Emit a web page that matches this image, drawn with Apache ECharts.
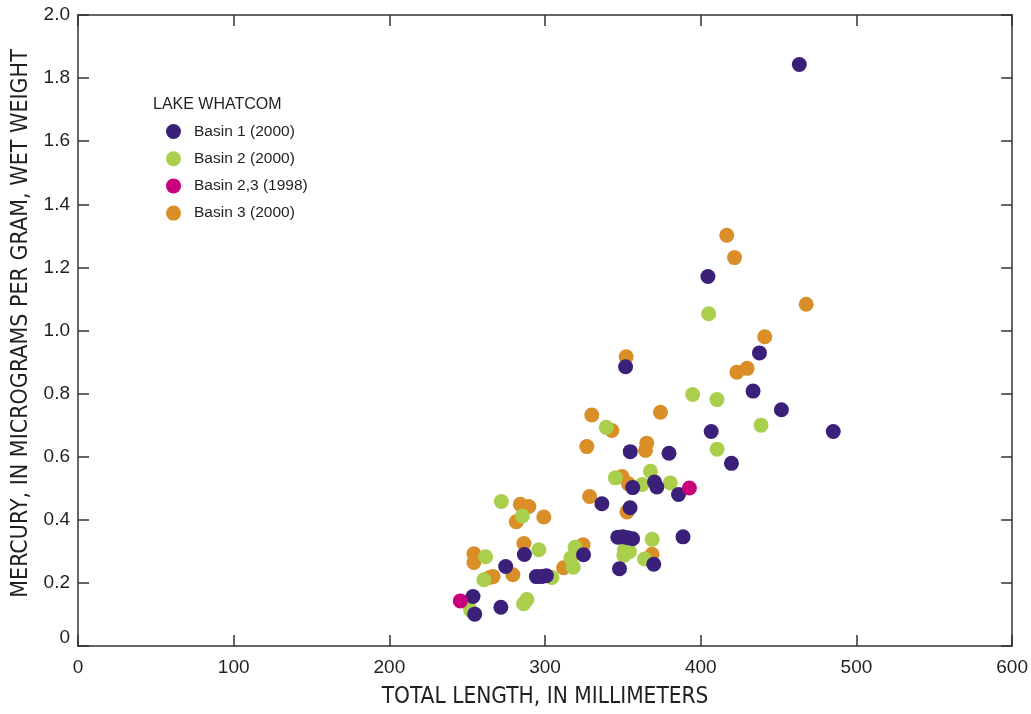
<!DOCTYPE html>
<html>
<head>
<meta charset="utf-8">
<script src="https://cdn.jsdelivr.net/npm/echarts@6/dist/echarts.min.js"></script>
<style>
html,body{margin:0;padding:0;background:#fff;overflow:hidden;width:1031px;height:714px;}
#chart{position:absolute;left:0;top:0;width:1031px;height:714px;}
</style>
</head>
<body>
<div id="chart"></div>
<script>
// Total length (mm), mercury (ug/g wet weight)
const basin1_2000 = [
  [463.3,1.843],[404.6,1.171],[437.7,0.929],[433.6,0.808],[451.8,0.749],[485.1,0.680],
  [406.7,0.680],[419.7,0.579],[351.7,0.885],[354.7,0.616],[379.6,0.611],[356.3,0.502],
  [370.3,0.520],[371.8,0.504],[385.7,0.480],[336.5,0.451],[354.6,0.438],[346.7,0.345],
  [349.9,0.346],[353.1,0.343],[356.2,0.340],[388.6,0.346],[324.7,0.289],[369.8,0.259],
  [347.8,0.245],[286.7,0.290],[274.7,0.252],[294.4,0.220],[297.6,0.220],[300.8,0.223],
  [253.7,0.157],[254.8,0.101],[271.6,0.123]
];
const basin2_2000 = [
  [405.1,1.053],[394.8,0.797],[410.4,0.781],[438.7,0.700],[339.3,0.693],[410.5,0.624],
  [367.7,0.554],[345.2,0.533],[362.4,0.512],[380.4,0.517],[271.9,0.458],[285.4,0.412],
  [296.0,0.305],[261.8,0.283],[260.7,0.210],[304.4,0.217],[319.3,0.313],[316.6,0.279],
  [318.1,0.250],[368.8,0.338],[351.0,0.305],[354.2,0.299],[350.6,0.287],[363.9,0.276],
  [288.3,0.147],[286.2,0.134],[249.6,0.139],[252.2,0.113]
];
const basin23_1998 = [
  [392.7,0.501],[245.6,0.143]
];
const basin3_2000 = [
  [416.7,1.302],[421.7,1.231],[467.7,1.083],[441.1,0.980],[429.8,0.880],[423.2,0.868],
  [352.1,0.917],[374.1,0.741],[330.0,0.732],[342.9,0.683],[326.8,0.632],[365.3,0.643],
  [364.5,0.620],[349.4,0.537],[353.6,0.514],[328.6,0.474],[352.6,0.425],[284.1,0.449],
  [289.6,0.442],[281.5,0.394],[299.2,0.409],[286.4,0.325],[324.4,0.321],[368.7,0.291],
  [311.9,0.248],[254.3,0.292],[254.3,0.265],[279.3,0.226],[266.6,0.220],[264.4,0.217]
];
const seriesNames = ['Basin 1 (2000)','Basin 2 (2000)','Basin 2,3 (1998)','Basin 3 (2000)'];
const legendTitle = 'LAKE WHATCOM';
const xTitle = 'TOTAL LENGTH, IN MILLIMETERS';
const yTitle = 'MERCURY, IN MICROGRAMS PER GRAM, WET WEIGHT';

const colors = ['#3b2079','#a9cf4d','#c8007b','#d98e27'];
const dataSets = [basin1_2000, basin2_2000, basin23_1998, basin3_2000];
const zOrder = [3,2,4,1];

const SANS = "'Liberation Sans', Arial, sans-serif";
const NARROW = "'Liberation Sans Narrow', 'DejaVu Sans Condensed', sans-serif";
const axisColor = '#333';

const chart = echarts.init(document.getElementById('chart'), null, {renderer:'canvas', width:1031, height:714});
const baseX = {
  type:'value', min:0, max:600, interval:100,
  axisLine:{show:true, onZero:false, lineStyle:{color:axisColor, width:1.5}},
  axisTick:{show:true, inside:true, length:11, lineStyle:{color:axisColor, width:1.5}},
  splitLine:{show:false}
};
const baseY = {
  type:'value', min:0, max:2, interval:0.2,
  axisLine:{show:true, onZero:false, lineStyle:{color:axisColor, width:1.5}},
  axisTick:{show:true, inside:true, length:11, lineStyle:{color:axisColor, width:1.5}},
  splitLine:{show:false}
};
const option = {
  animation:false,
  backgroundColor:'#fff',
  title:{
    text:legendTitle, left:153, top:97, padding:0,
    textStyle:{fontFamily:SANS, fontSize:16, fontWeight:'normal', color:'#231f20'}
  },
  legend:{
    data:seriesNames, orient:'vertical', left:166, top:123.5, padding:0,
    itemWidth:15, itemHeight:15, itemGap:11.2, icon:'circle',
    textStyle:{fontFamily:SANS, fontSize:15.5, color:'#231f20', lineHeight:15, padding:[0,0,0,8]}
  },
  grid:{left:78, right:18, top:15, bottom:64, containLabel:false},
  xAxis:[
    Object.assign({}, baseX, {
      position:'bottom',
      name:xTitle, nameLocation:'middle', nameGap:40,
      nameTextStyle:{fontFamily:NARROW, fontSize:22.5, color:'#231f20'},
      axisLabel:{show:true, margin:12, fontFamily:SANS, fontSize:19, color:'#231f20'}
    }),
    Object.assign({}, baseX, {position:'top', axisLabel:{show:false}})
  ],
  yAxis:[
    Object.assign({}, baseY, {
      position:'left',
      name:yTitle, nameLocation:'middle', nameGap:43, nameRotate:90,
      nameTextStyle:{fontFamily:NARROW, fontSize:23, color:'#231f20', padding:[0,0,0,14]},
      axisLabel:{show:true, margin:8, fontFamily:SANS, fontSize:19, color:'#231f20',
        formatter:function(v){ return v===0 ? '{z|0}' : v.toFixed(1); },
        rich:{z:{fontFamily:SANS, fontSize:19, color:'#231f20', padding:[0,0,16,0]}}}
    }),
    Object.assign({}, baseY, {position:'right', axisLabel:{show:false}})
  ],
  series: seriesNames.map(function(n,i){
    return {
      name:n, type:'scatter', xAxisIndex:0, yAxisIndex:0,
      data:dataSets[i], symbol:'circle', symbolSize:15, z:zOrder[i],
      itemStyle:{color:colors[i], opacity:1},
      emphasis:{disabled:true}
    };
  })
};
chart.setOption(option);
</script>
</body>
</html>
